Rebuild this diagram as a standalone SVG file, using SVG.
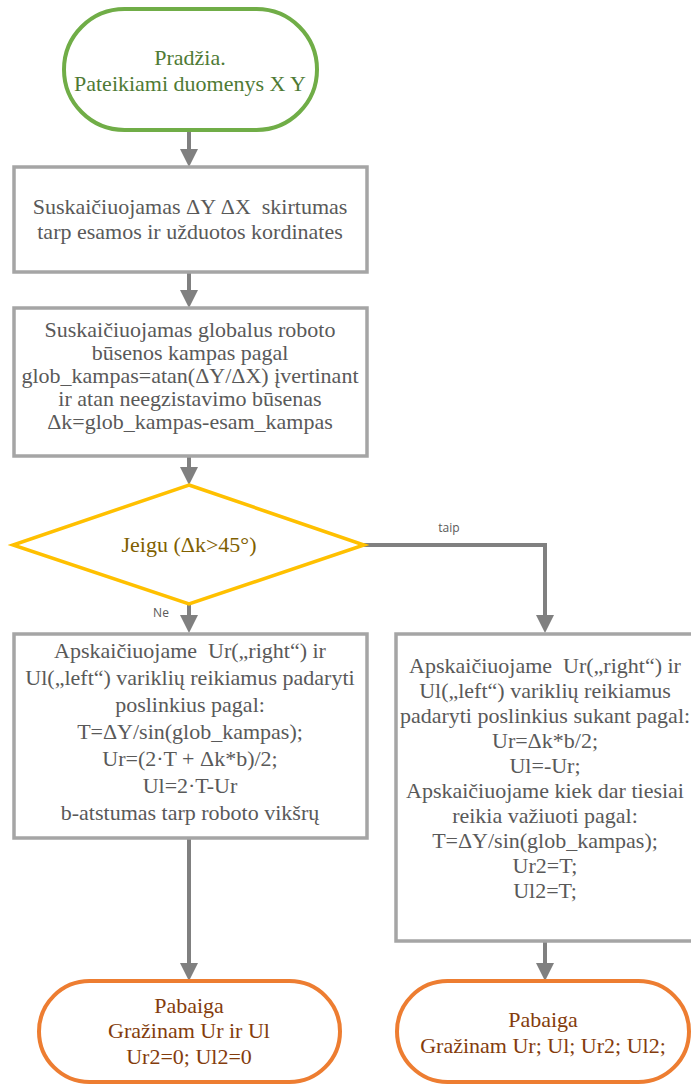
<svg xmlns="http://www.w3.org/2000/svg" width="691" height="1084" viewBox="0 0 691 1084">
<style>
text{font-family:"Liberation Serif","Times New Roman",serif;font-size:22px;text-anchor:middle}
.box{fill:#fff;stroke:#A5A5A5;stroke-width:3.5}
.bt{fill:#595959}
.start{fill:#fff;stroke:#70AD47;stroke-width:4}
.st{fill:#4E7A34}
.dec{fill:#fff;stroke:#FFC000;stroke-width:3.5;stroke-linejoin:miter}
.dt{fill:#7F6000}
.end{fill:#fff;stroke:#ED7D31;stroke-width:4}
.et{fill:#843C0C}
.con{fill:none;stroke:#808080;stroke-width:4}
.lbl{font-family:"Open Sans","DejaVu Sans",sans-serif;font-size:12px;fill:#595959}
</style>
<defs>
<marker id="arr" markerUnits="userSpaceOnUse" markerWidth="18" markerHeight="18" viewBox="0 0 18 18" refX="0" refY="9" orient="auto">
<path d="M0,0 L18,9 L0,18 z" fill="#808080"/>
</marker>
</defs>
<g id="connectors">
<line class="con" x1="189" y1="130" x2="189" y2="149" marker-end="url(#arr)"/>
<line class="con" x1="189" y1="272" x2="189" y2="290" marker-end="url(#arr)"/>
<line class="con" x1="189" y1="456" x2="189" y2="467" marker-end="url(#arr)"/>
<line class="con" x1="189" y1="604" x2="189" y2="615" marker-end="url(#arr)"/>
<polyline class="con" points="364,545 545,545 545,615" marker-end="url(#arr)"/>
<line class="con" x1="189" y1="838" x2="189" y2="963" marker-end="url(#arr)"/>
<line class="con" x1="545" y1="941" x2="545" y2="963" marker-end="url(#arr)"/>
<text class="lbl" x="449" y="532">taip</text>
<text class="lbl" x="161" y="617">Ne</text>
</g>
<g id="start">
<rect class="start" x="64" y="9" width="253" height="121" rx="60.5"/>
<text class="st" x="190" y="65">Pradžia.</text>
<text class="st" x="190" y="91">Pateikiami duomenys X Y</text>
</g>
<g id="diff">
<rect class="box" x="14" y="167" width="353" height="105"/>
<text class="bt" x="190" y="214" xml:space="preserve">Suskaičiuojamas ΔY ΔX  skirtumas</text>
<text class="bt" x="190" y="239">tarp esamos ir užduotos kordinates</text>
</g>
<g id="angle">
<rect class="box" x="14" y="308" width="353" height="148"/>
<text class="bt" x="190" y="337">Suskaičiuojamas globalus roboto</text>
<text class="bt" x="190" y="360">būsenos kampas pagal</text>
<text class="bt" x="190" y="383">glob_kampas=atan(ΔY/ΔX) įvertinant</text>
<text class="bt" x="190" y="406">ir atan neegzistavimo būsenas</text>
<text class="bt" x="190" y="429">Δk=glob_kampas-esam_kampas</text>
</g>
<g id="decision">
<polygon class="dec" points="189,485 364,545 189,604 13,545"/>
<text class="dt" x="189" y="552">Jeigu (Δk&gt;45°)</text>
</g>
<g id="no-branch">
<rect class="box" x="14" y="634" width="353" height="204"/>
<text class="bt" x="190" y="658" xml:space="preserve">Apskaičiuojame  Ur(„right“) ir</text>
<text class="bt" x="190" y="685">Ul(„left“) variklių reikiamus padaryti</text>
<text class="bt" x="190" y="712">poslinkius pagal:</text>
<text class="bt" x="190" y="739">T=ΔY/sin(glob_kampas);</text>
<text class="bt" x="190" y="766">Ur=(2·T + Δk*b)/2;</text>
<text class="bt" x="190" y="793">Ul=2·T-Ur</text>
<text class="bt" x="190" y="820">b-atstumas tarp roboto vikšrų</text>
</g>
<g id="yes-branch">
<rect class="box" x="396" y="634" width="298" height="307"/>
<text class="bt" x="545" y="673" xml:space="preserve">Apskaičiuojame  Ur(„right“) ir</text>
<text class="bt" x="545" y="698">Ul(„left“) variklių reikiamus</text>
<text class="bt" x="545" y="723">padaryti poslinkius sukant pagal:</text>
<text class="bt" x="545" y="748">Ur=Δk*b/2;</text>
<text class="bt" x="545" y="773">Ul=-Ur;</text>
<text class="bt" x="545" y="798">Apskaičiuojame kiek dar tiesiai</text>
<text class="bt" x="545" y="823">reikia važiuoti pagal:</text>
<text class="bt" x="545" y="848">T=ΔY/sin(glob_kampas);</text>
<text class="bt" x="545" y="873">Ur2=T;</text>
<text class="bt" x="545" y="898">Ul2=T;</text>
</g>
<g id="end-no">
<rect class="end" x="39" y="981" width="301" height="101" rx="50.5"/>
<text class="et" x="189" y="1013">Pabaiga</text>
<text class="et" x="189" y="1038">Gražinam Ur ir Ul</text>
<text class="et" x="189" y="1064">Ur2=0; Ul2=0</text>
</g>
<g id="end-yes">
<rect class="end" x="397" y="981" width="292" height="101" rx="50.5"/>
<text class="et" x="543" y="1027">Pabaiga</text>
<text class="et" x="543" y="1053">Gražinam Ur; Ul; Ur2; Ul2;</text>
</g>
</svg>
